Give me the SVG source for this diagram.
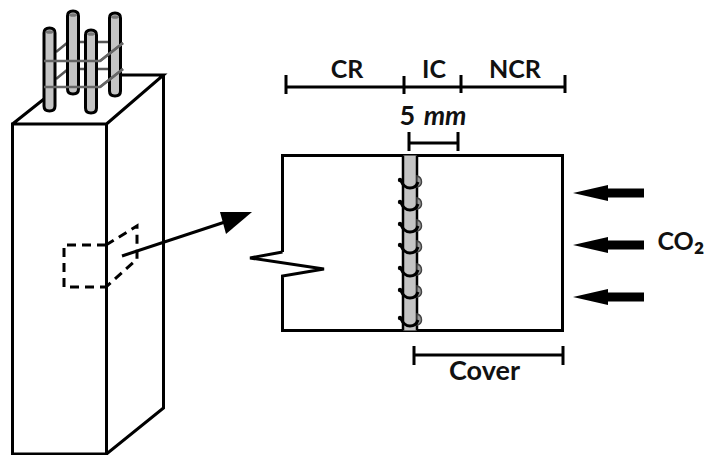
<svg xmlns="http://www.w3.org/2000/svg" width="705" height="455" viewBox="0 0 705 455">
<style>
.l{fill:none;stroke:#000;stroke-width:3}
.d{fill:none;stroke:#000;stroke-width:3;stroke-dasharray:9 6}
.bar{fill:#c4c4c4;stroke:#000;stroke-width:3}
.tie{fill:none;stroke:#666;stroke-width:2.500}
.tie2{fill:none;stroke:#555;stroke-width:2.500}
.t{font-family:"Lato","Open Sans",sans-serif;font-weight:700;font-size:25px;fill:#111;text-anchor:middle}
</style>
<defs>
<g id="rebar"><path class="bar" d="M-5.500 4V77Q-5.500 82 0 82Q5.500 82 5.500 77V4Q5.500 -1 0 -1Q-5.500 -1 -5.500 4Z"/><ellipse cx="0" cy="3" rx="4" ry="1.800" fill="#777"/></g>
<g id="loop"><path d="M417 -9Q421.500 -8 421.500 -3Q421.500 1 417 2Z" fill="#999" stroke="#444" stroke-width="1.500"/><path d="M401 -4Q404 3 410 3Q416 3 418 -3" fill="none" stroke="#000" stroke-width="3"/><circle cx="400" cy="-5" r="2.200" fill="#000"/></g>
<path id="co2" d="M573 0L608 -8V-4.500H644V4.500H608V8Z" fill="#000"/>
</defs>
<g id="column">
<path class="l" d="M12.500 124H106.500V454H12.500ZM12.500 124L44 99M106.500 124L163.500 75H122M163.500 75V408L106.500 454"/>
</g>
<g id="rebars">
<path class="tie2" d="M56 52L67 43M80 42H110M56 79L67 70M80 69H110"/>
<use href="#rebar" x="73" y="12"/>
<use href="#rebar" x="115" y="14"/>
<path class="tie" d="M100 61L123 43M100 87L123 69"/>
<use href="#rebar" x="49.500" y="29"/>
<use href="#rebar" x="91" y="31"/>
<path class="tie" d="M44 61H100L123 43M44 87H100L123 69"/>
</g>
<g id="detail-box">
<path class="d" d="M106 245H64V287H106"/>
<path class="d" d="M106 245L137 226V259L106 287"/>
</g>
<g id="connectors">
<path d="M122 256L228 221" fill="none" stroke="#000" stroke-width="3"/>
<path d="M220 212H252L226 234Z" fill="#000"/>
</g>
<g id="section">
<path class="l" d="M282.500 252V155.500H562.500V330.500H282.500V276L324 269L250 258L282.500 252"/>
<rect x="403" y="155.500" width="14" height="175" fill="#c4c4c4"/>
<path d="M403 155.500V330.500M417 155.500V330.500" fill="none" stroke="#000" stroke-width="2.500"/>
<use href="#loop" y="185"/><use href="#loop" y="207"/><use href="#loop" y="229"/><use href="#loop" y="250"/><use href="#loop" y="273"/><use href="#loop" y="295"/><use href="#loop" y="323"/>
</g>
<g id="scale-top">
<path class="l" d="M286 87H565M286 75V94M404 76V94M461 75V93M565 75V93"/>
<text class="t" x="347" y="78">CR</text>
<text class="t" x="434" y="78">IC</text>
<text class="t" x="515" y="78">NCR</text>
</g>
<g id="scale-5mm">
<path class="l" d="M409 143H458M409 132V151M458 132V151"/>
<text class="t" x="433" y="125" font-size="27" style="font-size:27px;word-spacing:2px">5 <tspan font-style="italic">mm</tspan></text>
</g>
<g id="scale-cover">
<path class="l" d="M414 355H563M414 346V365M563 346V365"/>
<text class="t" x="484.500" y="380" style="font-size:27px">Cover</text>
</g>
<g id="co2-arrows">
<use href="#co2" y="193"/><use href="#co2" y="245"/><use href="#co2" y="297"/>
<text class="t" x="681" y="250" style="font-size:25px">CO<tspan style="font-size:32px">₂</tspan></text>
</g>
</svg>
